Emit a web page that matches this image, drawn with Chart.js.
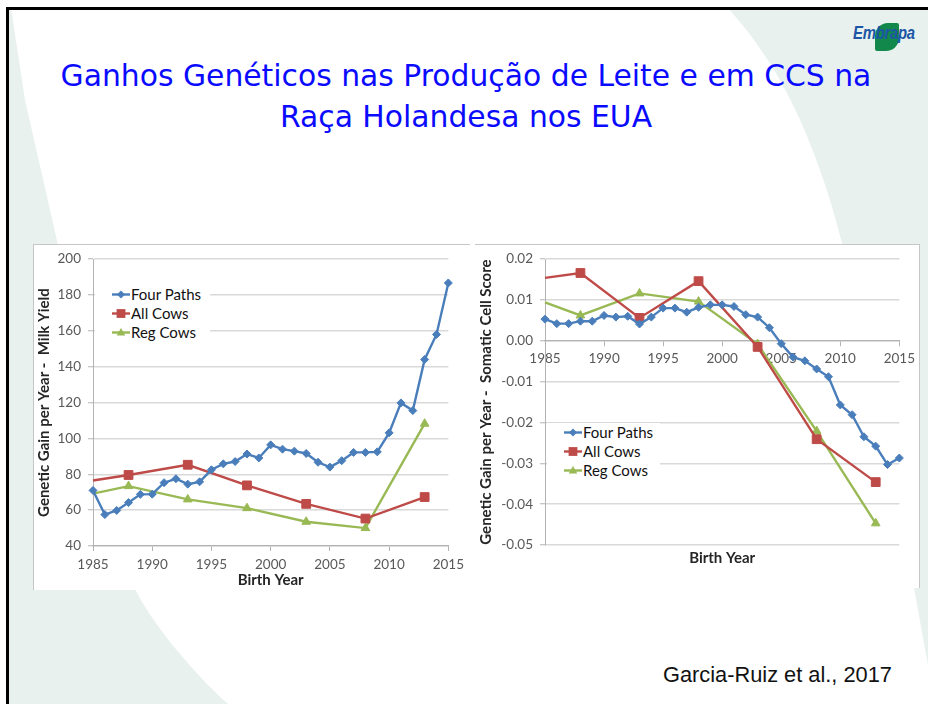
<!DOCTYPE html>
<html>
<head>
<meta charset="utf-8">
<script src="https://cdn.jsdelivr.net/npm/chart.js@4.4.1/dist/chart.umd.min.js"></script>
<style>
  html, body { margin: 0; padding: 0; }
  body { width: 928px; height: 704px; position: relative; overflow: hidden; background: #ffffff; font-family: "Liberation Sans", Arial, sans-serif; }
  #bg { position: absolute; left: 0; top: 0; }
  #frame { position: absolute; left: 6px; top: 7px; width: 1000px; height: 800px; border-top: 3px solid #000; border-left: 3px solid #000; box-sizing: border-box; }
  .title { position: absolute; left: 0; width: 932px; text-align: center; color: #0a0aff; font-family: "DejaVu Sans", sans-serif; font-size: 29.8px; line-height: normal; white-space: nowrap; }
  .box { position: absolute; background: #fff; }
  .box canvas { display: block; }
  .legend { position: absolute; background: #fff; font-family: Lato, "Open Sans", sans-serif; font-size: 15px; color: #111; }
  .legend .row { position: absolute; left: 17px; height: 19px; line-height: 19px; white-space: nowrap; }
  .legend svg { position: absolute; left: 0; top: 0; }
  .legend span { position: absolute; left: 19px; top: 0; }
  #cite { position: absolute; left: 663px; top: 662px; font-family: "Liberation Sans", Arial, sans-serif; font-size: 21.8px; color: #111; white-space: nowrap; }
  #logo { position: absolute; left: 853px; top: 22px; width: 70px; height: 30px; }
  #leaf { position: absolute; left: 22px; top: 1px; width: 24px; height: 28px; background: #12884a; border-radius: 13px 2px 13px 2px; }
  #logotext { position: absolute; left: 0; top: 1px; font-family: "Liberation Sans", Arial, sans-serif; font-weight: bold; font-style: italic; font-size: 17.5px; color: #1c56a5; transform: scaleX(0.85); transform-origin: 0 0; letter-spacing: -0.3px; }
</style>
</head>
<body>
<svg id="bg" width="928" height="704">
  <path d="M9,8 L11,8 L25,100 L58,245 L135,589 C150,620 190,670 228,704 L9,704 Z" fill="#e8f1ee"/>
  <path d="M728,8 C775,60 805,120 830,200 C860,300 895,480 935,704 L928,704 L928,8 Z" fill="#e8f1ee"/>
</svg>
<div id="frame"></div>
<div id="logo"><div id="leaf"></div><div id="logotext">Embrapa</div></div>
<div class="title" style="top:58px">Ganhos Genéticos nas Produção de Leite e em CCS na</div>
<div class="title" style="top:99px">Raça Holandesa nos EUA</div>

<div class="box" id="boxL" style="left:33px; top:244px; width:437px; height:346px; border-top:1px solid #c6c6c6; border-left:1px solid #c6c6c6; box-sizing:border-box;">
</div>
<div class="box" id="boxR" style="left:475px; top:244px; width:445px; height:344px; border-top:1px solid #c6c6c6; border-right:1.5px solid #c6c6c6; box-sizing:border-box;">
</div>
<div style="position:absolute; left:33px; top:244px; width:437px; height:346px;"><canvas id="cL"></canvas></div>
<div style="position:absolute; left:475px; top:244px; width:445px; height:344px;"><canvas id="cR"></canvas></div>

<div class="legend" id="legL" style="left:95px; top:284px; width:115px; height:58px;"></div>
<div class="legend" id="legR" style="left:547px; top:423px; width:113px; height:58px;"></div>

<div id="cite">Garcia-Ruiz et al., 2017</div>

<script>
// ---------------- data ----------------
const seriesNames = ["Four Paths", "All Cows", "Reg Cows"];
const fourPathsYears = [1985, 1986, 1987, 1988, 1989, 1990, 1991, 1992, 1993, 1994, 1995, 1996, 1997, 1998, 1999, 2000,
                        2001, 2002, 2003, 2004, 2005, 2006, 2007, 2008, 2009, 2010, 2011, 2012, 2013, 2014, 2015];
const cowsYears = [1985, 1988, 1993, 1998, 2003, 2008, 2013];

const milkFourPaths = [71.0, 57.5, 59.8, 64.2, 68.8, 68.9, 75.3, 77.5, 74.5, 75.8, 82.5, 85.8, 87.1, 91.3, 89.1, 96.4,
                       94.0, 92.9, 91.6, 86.7, 84.0, 87.6, 92.2, 92.2, 92.5, 103.1, 119.8, 115.5, 144.0, 158.0, 186.7];
const milkAllCows = [76.5, 79.6, 85.3, 73.8, 63.5, 55.3, 67.3];
const milkRegCows = [69.2, 73.4, 66.0, 61.1, 53.5, 50.0, 108.2];

const scsFourPaths = [0.0053, 0.0042, 0.0042, 0.0048, 0.0048, 0.0062, 0.0058, 0.0060, 0.0041, 0.0058, 0.0080, 0.0080,
                      0.0070, 0.0082, 0.0088, 0.0088, 0.0084, 0.0064, 0.0058, 0.0032, -0.0007, -0.0040, -0.0049,
                      -0.0069, -0.0088, -0.0157, -0.0181, -0.0235, -0.0258, -0.0303, -0.0287];
const scsAllCows = [0.0154, 0.0166, 0.0056, 0.0146, -0.0015, -0.0241, -0.0346];
const scsRegCows = [0.0094, 0.0062, 0.0116, 0.0096, -0.0008, -0.0221, -0.0447];

const xTicks = [1985, 1990, 1995, 2000, 2005, 2010, 2015];
const milkTicks = [40, 60, 80, 100, 120, 140, 160, 180, 200];
const scsTicks = [-0.05, -0.04, -0.03, -0.02, -0.01, 0.00, 0.01, 0.02];

const titleMilkY = "Genetic Gain per Year -  Milk Yield";
const titleScsY = "Genetic Gain per Year -  Somatic Cell Score";
const titleX = "Birth Year";

// ---------------- styles ----------------
const COLORS = ["#4A7EBB", "#BE4B48", "#98B954"];
const STYLES = [
  { pointStyle: "rectRot", radius: 4 },
  { pointStyle: "rect", radius: 6.2 },
  { pointStyle: "triangle", radius: 5 }
];
const FONT = "Lato, 'Open Sans', sans-serif";
const GRID = "#d9d9d9";
const AXIS = "#b3b3b3";
const TICKC = "#595959";

function pts(xs, ys) { return xs.map((x, i) => ({ x: x, y: ys[i] })); }

function makeDatasets(fp, ac, rc) {
  const sets = [pts(fourPathsYears, fp), pts(cowsYears, ac), pts(cowsYears, rc)];
  return sets.map((d, i) => ({
    label: seriesNames[i],
    data: d,
    borderColor: COLORS[i],
    backgroundColor: COLORS[i],
    borderWidth: 2.4,
    pointStyle: STYLES[i].pointStyle,
    // cow series: first value is where the line enters the plot, without a marker
    pointRadius: d.map((p, k) => (i > 0 && k === 0) ? 0 : STYLES[i].radius),
    pointBorderWidth: 1,
    pointBorderColor: COLORS[i],
    pointBackgroundColor: COLORS[i],
    tension: 0,
    clip: false
  }));
}

const tickFont = { family: FONT, size: 13.5 };
const titleFont = { family: FONT, size: 15, weight: "bold" };

function yScale(min, max, step, title, fmt, width, ticksList) {
  return {
    type: "linear", position: "left", min: min, max: max,
    ticks: { stepSize: step, color: TICKC, font: tickFont, padding: 7, callback: fmt },
    afterBuildTicks: (s) => { s.ticks = ticksList.map(v => ({ value: v })); },
    grid: { color: GRID, lineWidth: 1.5, tickLength: 5, tickColor: AXIS, tickWidth: 1 },
    border: { display: true, color: AXIS, width: 1 },
    title: { display: true, text: title, color: "#262626", font: titleFont, padding: { top: 2, bottom: 0 } },
    afterFit: (s) => { s.width = width; }
  };
}

function xTicksFn(s) { s.ticks = xTicks.map(v => ({ value: v })); }

// ---------------- left chart: milk ----------------
new Chart(document.getElementById("cL"), {
  type: "line",
  data: { datasets: makeDatasets(milkFourPaths, milkAllCows, milkRegCows) },
  options: {
    responsive: true, maintainAspectRatio: false, animation: false, devicePixelRatio: 1,
    layout: { padding: { left: 0, right: 17, top: 8, bottom: 0 } },
    plugins: { legend: { display: false }, tooltip: { enabled: false } },
    scales: {
      x: {
        type: "linear", position: "bottom", min: 1985, max: 2015,
        afterBuildTicks: xTicksFn,
        ticks: { color: TICKC, font: tickFont, padding: 6, maxRotation: 0, callback: v => String(v) },
        grid: { drawOnChartArea: false, drawTicks: true, tickLength: 5, tickColor: AXIS },
        border: { display: true, color: AXIS, width: 1.2 },
        title: { display: true, text: titleX, color: "#262626", font: titleFont, padding: { top: 0, bottom: 1 } },
        afterFit: (s) => { s.height = 44; }
      },
      y: yScale(40, 200, 20, titleMilkY, v => String(v), 60, milkTicks)
    }
  }
});

// ---------------- right chart: somatic cell score ----------------
new Chart(document.getElementById("cR"), {
  type: "line",
  data: { datasets: makeDatasets(scsFourPaths, scsAllCows, scsRegCows) },
  options: {
    responsive: true, maintainAspectRatio: false, animation: false, devicePixelRatio: 1,
    layout: { padding: { left: 0, right: 17, top: 8, bottom: 0 } },
    plugins: { legend: { display: false }, tooltip: { enabled: false } },
    scales: {
      x: {
        type: "linear", position: { y: 0 }, min: 1985, max: 2015,
        afterBuildTicks: xTicksFn,
        ticks: { color: TICKC, font: tickFont, padding: 5, maxRotation: 0, callback: v => String(v) },
        grid: { drawOnChartArea: false, drawTicks: true, tickLength: 5, tickColor: AXIS },
        border: { display: true, color: AXIS, width: 1.2 },
        title: { display: false }
      },
      xb: {
        type: "linear", position: "bottom", min: 1985, max: 2015,
        ticks: { display: false },
        grid: { display: false, drawTicks: false },
        border: { display: false },
        title: { display: true, text: titleX, color: "#262626", font: titleFont, padding: { top: 0, bottom: 21 } },
        afterFit: (s) => { s.height = 43; }
      },
      y: yScale(-0.05, 0.02, 0.01, titleScsY, v => Number(v).toFixed(2), 70, scsTicks)
    }
  }
});

// ---------------- HTML legends ----------------
function markerSvg(i) {
  const c = COLORS[i];
  let m = "";
  if (i === 0) m = '<polygon points="9,5.5 13,9.5 9,13.5 5,9.5" fill="' + c + '"/>';
  if (i === 1) m = '<rect x="4.6" y="5.1" width="8.8" height="8.8" fill="' + c + '"/>';
  if (i === 2) m = '<polygon points="9,5 13.3,12.5 4.7,12.5" fill="' + c + '"/>';
  return '<svg width="18" height="19"><line x1="0" y1="9.5" x2="18" y2="9.5" stroke="' + c + '" stroke-width="2.4"/>' + m + '</svg>';
}
function buildLegend(id, rowTops) {
  const el = document.getElementById(id);
  seriesNames.forEach((n, i) => {
    const r = document.createElement("div");
    r.className = "row";
    r.style.top = rowTops[i] + "px";
    r.innerHTML = markerSvg(i) + "<span>" + n + "</span>";
    el.appendChild(r);
  });
}
buildLegend("legL", [1, 20, 39]);
buildLegend("legR", [0, 19, 38]);
</script>
</body>
</html>
